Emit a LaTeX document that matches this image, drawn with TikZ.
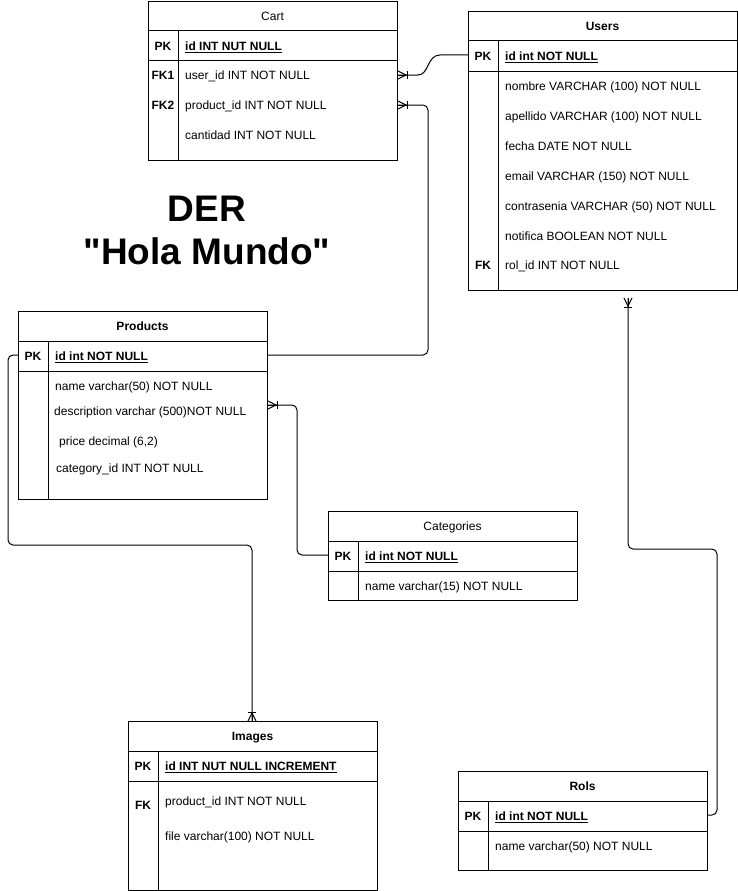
\documentclass[tikz,border=0pt]{standalone}
\usepackage{fontspec}
\setmainfont{Liberation Sans}
\newfontfamily\qfont{Liberation Sans}
\tikzset{
  tbl/.style={draw, line width=1pt, anchor=north west, inner sep=0pt, fill=white},
  fld/.style={anchor=west, inner sep=0pt, text height=8.6pt, text depth=0pt, font=\fontsize{12}{14}\selectfont},
  keyf/.style={anchor=center, inner sep=0pt, text height=8.6pt, text depth=0pt, font=\fontsize{12}{14}\selectfont\bfseries},
  pkf/.style={fld, font=\fontsize{12}{14}\selectfont\bfseries},
  ttl/.style={anchor=center, inner sep=0pt, text height=8.6pt, text depth=0pt, font=\fontsize{12}{14}\selectfont},
  ttlb/.style={ttl, font=\fontsize{12}{14}\selectfont\bfseries},
  big/.style={anchor=center, inner sep=0pt, text height=26.5pt, text depth=0pt, font=\qfont\fontsize{37}{44}\selectfont\bfseries},
  conn/.style={draw, line width=1pt, rounded corners=5pt},
  crow/.pic={\draw[line width=1pt] (0,-4) -- (8,0) -- (0,4); \draw[line width=1pt] (0,0) -- (9,0); \draw[line width=1pt] (9,-4) -- (9,4);}
}
\newcommand{\ertable}[5]{%
  \node[tbl, minimum width=#4pt, minimum height=#5pt] (#1) at (#2,#3) {};
  \draw[line width=1pt] (#2,#3+30) -- (#2+#4,#3+30);
  \draw[line width=1pt] (#2,#3+60) -- (#2+#4,#3+60);
  \draw[line width=1pt] (#2+30,#3+30) -- (#2+30,#3+#5);
}
\begin{document}
\begin{tikzpicture}[x=1pt,y=-1pt]
\fill[white] (0,0) rectangle (738,891);
\useasboundingbox (0,0) rectangle (738,891);

% Cart
\ertable{cart}{148}{1}{249}{159}
\node[ttl] (cartt) at (272.5,16) {Cart};
\node[keyf] (cartk0) at (163,46) {PK};
\node[keyf] (cartk1) at (163,75) {FK1};
\node[keyf] (cartk2) at (163,105) {FK2};
\node[pkf] (cf0) at (185,46) {\underline{id INT NUT NULL}};
\node[fld] (cf1) at (185,75) {user\_id INT NOT NULL};
\node[fld] (cf2) at (185,105) {product\_id INT NOT NULL};
\node[fld] (cf3) at (185,135) {cantidad INT NOT NULL};

% Users
\ertable{users}{468}{11}{269}{279}
\node[ttlb] (userst) at (602.5,26) {Users};
\node[keyf] (usersk0) at (483,56) {PK};
\node[keyf] (usersk1) at (483,265) {FK};
\node[pkf] (uf0) at (505,56) {\underline{id int NOT NULL}};
\node[fld] (uf1) at (505,86) {nombre VARCHAR (100) NOT NULL};
\node[fld] (uf2) at (505,116) {apellido VARCHAR (100) NOT NULL};
\node[fld] (uf3) at (505,146) {fecha DATE NOT NULL};
\node[fld] (uf4) at (505,176) {email VARCHAR (150) NOT NULL};
\node[fld] (uf5) at (505,206) {contrasenia VARCHAR (50) NOT NULL};
\node[fld] (uf6) at (505,236) {notifica BOOLEAN NOT NULL};
\node[fld] (uf7) at (505,265) {rol\_id INT NOT NULL};

% Title
\node[big] (der1) at (207,208) {DER};
\node[big] (der2) at (207,251) {"Hola Mundo"};

% Products
\ertable{products}{18}{311}{249}{188}
\node[ttlb] (prodt) at (142.5,326) {Products};
\node[keyf] (prodk0) at (33,356) {PK};
\node[pkf] (pf0) at (55,356) {\underline{id int NOT NULL}};
\node[fld] (pf1) at (55,386) {name varchar(50) NOT NULL};
\node[fld] (pf2) at (54,411) {description varchar (500)NOT NULL};
\node[fld] (pf3) at (59,441) {price decimal (6,2)};
\node[fld] (pf4) at (56,468) {category\_id INT NOT NULL};

% Categories
\ertable{categories}{328}{511}{249}{89}
\node[ttl] (catt) at (452.5,526) {Categories};
\node[keyf] (catk0) at (343,556) {PK};
\node[pkf] (catf0) at (365,556) {\underline{id int NOT NULL}};
\node[fld] (catf1) at (365,586) {name varchar(15) NOT NULL};

% Images
\ertable{images}{128}{721}{249}{169}
\node[ttlb] (imgt) at (252.5,736) {Images};
\node[keyf] (imgk0) at (143,766) {PK};
\node[keyf] (imgk1) at (143,805) {FK};
\node[pkf] (if0) at (165,766) {\underline{id INT NUT NULL INCREMENT}};
\node[fld] (if1) at (165,801) {product\_id INT NOT NULL};
\node[fld] (if2) at (165,836) {file varchar(100) NOT NULL};

% Rols
\ertable{rols}{458}{771}{249}{99}
\node[ttlb] (rolst) at (582.5,786) {Rols};
\node[keyf] (rolsk0) at (473,816) {PK};
\node[pkf] (rf0) at (495,816) {\underline{id int NOT NULL}};
\node[fld] (rf1) at (495,846) {name varchar(50) NOT NULL};

% connection points
\coordinate (cartu) at (cart.east |- 0,75);
\coordinate (cartp) at (cart.east |- 0,105);
\coordinate (userpk) at (users.west |- 0,55);
\coordinate (prodpkr) at (products.east |- 0,355);
\coordinate (prodpkl) at (products.west |- 0,355);
\coordinate (prodcat) at (products.east |- 0,405);
\coordinate (catpk) at (categories.west |- 0,555);
\coordinate (imgtop) at (252,721);
\coordinate (userbot) at (628,298);
\coordinate (rolpk) at (rols.east |- 0,815);

% connectors
\draw[line width=1pt] (cartu) -- (418,75) .. controls (429,75) and (427,55) .. (440,55) -- (userpk);
\draw[conn] (cartp) -- (428,105) -- (428,355) -- (prodpkr);
\draw[conn] (prodcat) -- (297,405) -- (297,555) -- (catpk);
\draw[conn] (prodpkl) -- (8,355) -- (8,545) -- (252,545) -- (imgtop);
\draw[conn] (userbot) -- (628,549) -- (717,549) -- (717,815) -- (rolpk);

% crow's feet
\pic at (cartu) {crow};
\pic at (cartp) {crow};
\pic at (prodcat) {crow};
\pic[rotate=90] at (imgtop) {crow};
\pic[rotate=-90] at (userbot) {crow};
\end{tikzpicture}
\end{document}
